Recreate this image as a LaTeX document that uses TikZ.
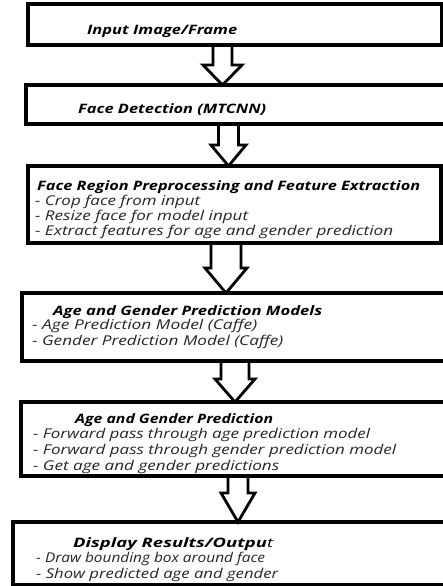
\documentclass[tikz,border=0pt]{standalone}
\usepackage{fontspec}
\setmainfont{Open Sans}
\usetikzlibrary{calc}
\tikzset{
  box/.style={draw=black, line width=3.2pt, inner sep=0pt, outer sep=0pt, anchor=north west},
  blockarrow/.style={draw=black, line width=2.8pt, line join=miter},
  ttl/.style={anchor=mid west, inner sep=0pt, font=\fontsize{13}{15}\selectfont\bfseries\itshape, text=black},
  itm/.style={anchor=mid west, inner sep=0pt, font=\fontsize{13.5}{15}\selectfont\itshape, text=black!85},
}
% text stretched horizontally to a given width (pt), height kept
\newcommand\wtxt[2]{\resizebox{#1pt}{\height}{#2}}
% box: name, x, y (top left), x2, y2 (bottom right)
\newcommand\flowbox[5]{\node[box, minimum width={(#4-#2)*1pt}, minimum height={(#5-#3)*1pt}] (#1) at (#2,#3) {};}
% arrow: from, to, center x, shaft half width, head half width, head length
\newcommand\blockarr[6]{%
  \draw[blockarrow] let \p1=(#1.south), \p2=(#2.north) in
    ({(#3-#4)*1pt},\y1) -- ({(#3-#4)*1pt},{\y2+#6*1pt}) -- ({(#3-#5)*1pt},{\y2+#6*1pt})
    -- ({#3*1pt},\y2) -- ({(#3+#5)*1pt},{\y2+#6*1pt}) -- ({(#3+#4)*1pt},{\y2+#6*1pt})
    -- ({(#3+#4)*1pt},\y1);}
\begin{document}
\begin{tikzpicture}[x=1pt,y=-1pt]
\useasboundingbox[fill=white] (0,0) rectangle (443,586);
\flowbox{b1}{28}{4}{442}{45}
\flowbox{b2}{26}{85}{447}{124}
\flowbox{b3}{28}{166}{441}{243}
\flowbox{b4}{22}{293}{447}{361}
\flowbox{b5}{21}{402}{447}{476}
\flowbox{b6}{13}{522}{447}{585}

\blockarr{b1}{b2}{222.5}{9.5}{19.5}{20}
\blockarr{b2}{b3}{228.5}{10}{17.5}{21}
\blockarr{b3}{b4}{226}{15}{21}{25}
\blockarr{b4}{b5}{235}{14}{20}{23}
\blockarr{b5}{b6}{238}{10}{17}{29}

\node[ttl] (t1) at (87,32) {\wtxt{150}{Input Image/Frame}};
\node[ttl] (t2) at (78,111) {\wtxt{188}{Face Detection (MTCNN)}};

\node[ttl] (t3) at (37,188) {\wtxt{383}{Face Region Preprocessing and Feature Extraction}};
\node[itm] (t3a) at (35,203) {\wtxt{165}{- Crop face from input}};
\node[itm] (t3b) at (35,218) {\wtxt{213}{- Resize face for model input}};
\node[itm] (t3c) at (35,233) {\wtxt{358}{- Extract features for age and gender prediction}};

\node[ttl] (t4) at (53,313) {\wtxt{269}{Age and Gender Prediction Models}};
\node[itm] (t4a) at (32,327) {\wtxt{225}{- Age Prediction Model (Caffe)}};
\node[itm] (t4b) at (32,343) {\wtxt{251}{- Gender Prediction Model (Caffe)}};

\node[ttl] (t5) at (75,421) {\wtxt{198}{Age and Gender Prediction}};
\node[itm] (t5a) at (33,436) {\wtxt{337}{- Forward pass through age prediction model}};
\node[itm] (t5b) at (33,452) {\wtxt{363}{- Forward pass through gender prediction model}};
\node[itm] (t5c) at (33,468) {\wtxt{246}{- Get age and gender predictions}};

\node[ttl] (t6) at (73,545) {\wtxt{200}{Display Results/Outpu{\mdseries t}}};
\node[itm] (t6a) at (36,560) {\wtxt{229}{- Draw bounding box around face}};
\node[itm] (t6b) at (36,576) {\wtxt{242}{- Show predicted age and gender}};
\end{tikzpicture}
\end{document}
